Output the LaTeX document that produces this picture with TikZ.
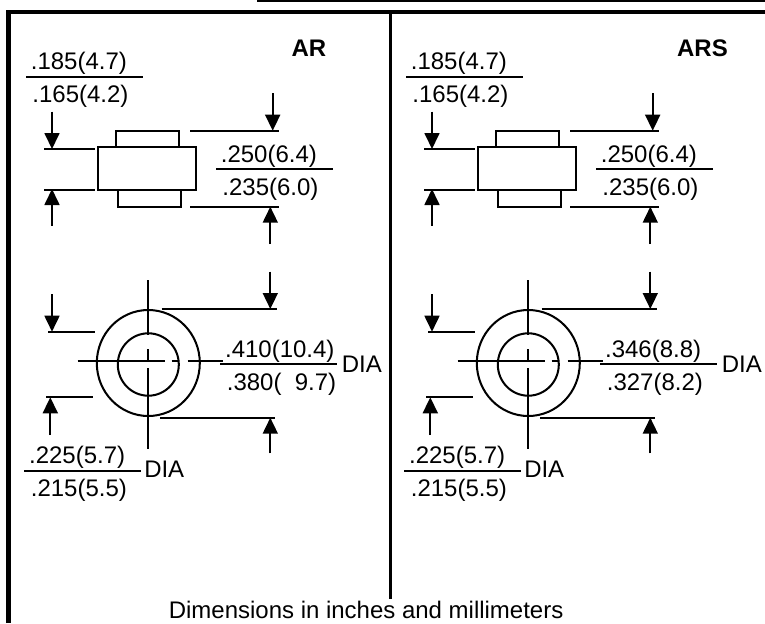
\documentclass[tikz,border=0pt]{standalone}
\usepackage{fontspec}
\setmainfont{Liberation Sans}
\usetikzlibrary{arrows.meta}
\tikzset{
	dimtext/.style={anchor=base west, inner sep=0pt, font=\fontsize{13.65}{13.65}\selectfont},
	headtext/.style={dimtext, font=\fontsize{13.65}{13.65}\selectfont\bfseries},
	dimline/.style={line width=1pt},
	heavyline/.style={line width=1.3pt},
	dimarrow/.style={line width=1pt, -{Triangle[length=0.32cm, width=0.3cm]}},
	outline/.style={line width=1.15pt}
}
% #1 x shift, #2 #3 limits of the outer diameter
\def\bushing[#1]#2#3{
	\begin{scope}[xshift=#1*0.02cm, name prefix=p#1-]
		% side view
		\draw[outline] (116.3, 146.7) -- (116.3, 130.7) -- (178.7, 130.7) -- (178.7, 146.7);
		\draw[outline] (118, 190) -- (118, 206.7) -- (180.7, 206.7) -- (180.7, 190);
		\draw[outline] (98, 146.7) rectangle (196.3, 190);
		
		\draw[dimline] (44, 149) -- (95, 149);
		\draw[dimline] (44, 190) -- (95, 190);
		\draw[dimarrow] (52, 111.7) -- (52, 149);
		\draw[dimarrow] (52, 225.7) -- (52, 189);
		
		\draw[dimline] (190, 130.7) -- (279.3, 130.7);
		\draw[dimline] (190, 206.7) -- (279.3, 206.7);
		\draw[dimarrow] (272.7, 93.3) -- (272.7, 130.7);
		\draw[dimarrow] (270.3, 244) -- (270.3, 206.7);
		
		% ring view
		\draw[outline] (148.3, 363) circle [x radius=51.5, y radius=53];
		\draw[outline] (148.3, 364.5) circle [x radius=30.5, y radius=31.2];
		
		\draw[dimline] (77.7, 360.7) -- (165, 360.7);
		\draw[dimline] (171.7, 360.7) -- (179, 360.7);
		\draw[dimline] (187.7, 360.7) -- (222.7, 360.7);
		\draw[dimline] (148.3, 280) -- (148.3, 335);
		\draw[dimline] (148.3, 349.3) -- (148.3, 361.7);
		\draw[dimline] (148.3, 368.3) -- (148.3, 449);
		
		\draw[heavyline] (161.7, 309) -- (277.3, 309);
		\draw[heavyline] (160, 417.7) -- (275, 417.7);
		\draw[dimarrow] (270.3, 271.7) -- (270.3, 309);
		\draw[dimarrow] (270.3, 453.3) -- (270.3, 417.7);
		
		\draw[dimline] (48.3, 331.7) -- (95, 331.7);
		\draw[dimline] (46, 397.3) -- (93.3, 397.3);
		\draw[dimarrow] (52, 294.3) -- (52, 331.7);
		\draw[dimarrow] (50.3, 435) -- (50.3, 397.3);
		
		% limits
		\node[dimtext] (lengthmax) at (30.5, 69) {.185(4.7)};
		\draw[dimline] (26, 77.3) -- (143.3, 77.3);
		\node[dimtext] (lengthmin) at (32.1, 102) {.165(4.2)};
		
		\node[dimtext] (widthmax) at (220.5, 162.3) {.250(6.4)};
		\draw[dimline] (216, 169.3) -- (333.3, 169.3);
		\node[dimtext] (widthmin) at (222.1, 195) {.235(6.0)};
		
		\node[dimtext] (outermax) at (224.8, 357.7) {#2};
		\draw[dimline] (220, 364) -- (337.3, 364);
		\node[dimtext] (outermin) at (226.5, 390) {#3};
		\node[dimtext] (outerdia) at (341.5, 372.7) {DIA};
		
		\node[dimtext] (innermax) at (28.8, 463.3) {.225(5.7)};
		\draw[dimline] (24, 471.3) -- (141.3, 471.3);
		\node[dimtext] (innermin) at (30.5, 496) {.215(5.5)};
		\node[dimtext] (innerdia) at (143.9, 477.7) {DIA};
	\end{scope}
}

\begin{document}
\begin{tikzpicture}[x=0.02cm, y=-0.02cm]
		\useasboundingbox (0, 0) rectangle (765, 623);
		
		% frame
		\draw[line width=2.3pt] (8.5, 623) -- (8.5, 11.7) -- (765, 11.7);
		\draw[line width=2pt] (390.3, 11.7) -- (390.3, 599);
		\draw[line width=1pt] (257, 1) -- (765, 1);
		
		\bushing[0]{.410(10.4)}{.380(\ \ 9.7)}
		\bushing[380]{.346(8.8)}{.327(8.2)}
		
		\node[headtext] (ar) at (291.2, 56) {AR};
		\node[headtext] (ars) at (676.8, 56) {ARS};
		\node[dimtext] (caption) at (168.5, 618) {Dimensions in inches and millimeters};
\end{tikzpicture}
\end{document}
